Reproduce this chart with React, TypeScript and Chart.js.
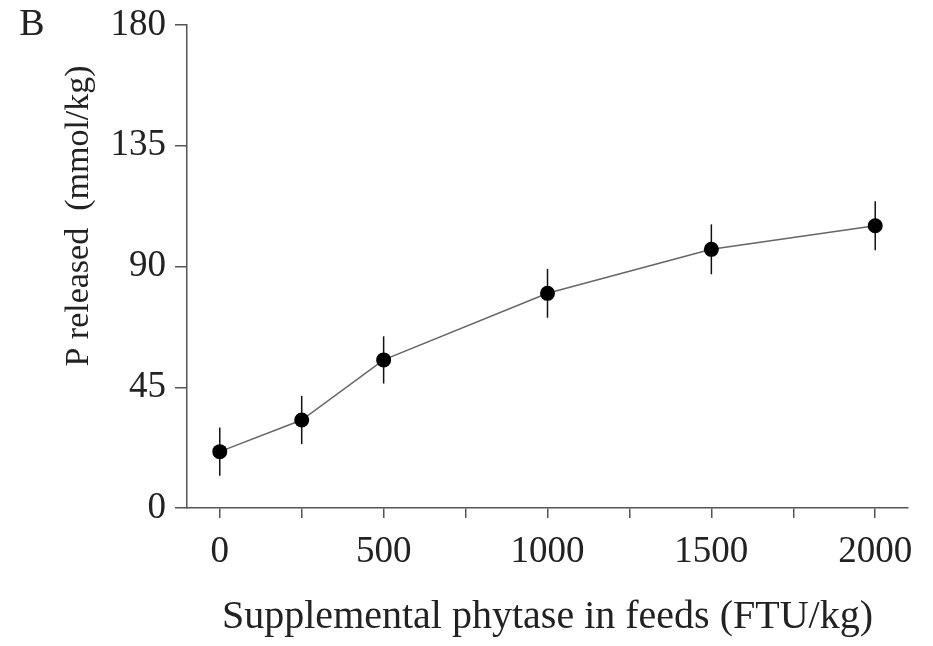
import React, { useEffect, useRef } from "react";
import { Chart, registerables } from "chart.js";
Chart.register(...registerables);

const doses = [0, 250, 500, 1000, 1500, 2000];
const released = [21.0, 32.8, 55.2, 80.0, 96.4, 105.2];
const errors = [9, 9, 8.8, 9.1, 9.3, 9.1];
const xTicks = [0, 250, 500, 750, 1000, 1250, 1500, 1750, 2000];
const xLabeled = [0, 500, 1000, 1500, 2000];
const yTicks = [0, 45, 90, 135, 180];
const xTitle = "Supplemental phytase in feeds (FTU/kg)";
const yTitle = "P released  (mmol/kg)";
const panelLabel = "B";

const SERIF = "'Liberation Serif', 'DejaVu Serif', serif";

const errorBarPlugin = {
  id: "errorBars",
  beforeDatasetsDraw(chart: any) {
    const { ctx, scales } = chart;
    const xs = scales.x;
    const ys = scales.y;
    ctx.save();
    ctx.strokeStyle = "#111";
    ctx.lineWidth = 1.5;
    doses.forEach((d, i) => {
      const px = xs.getPixelForValue(d);
      const top = ys.getPixelForValue(released[i] + errors[i]);
      const bot = ys.getPixelForValue(released[i] - errors[i]);
      ctx.beginPath();
      ctx.moveTo(px, top);
      ctx.lineTo(px, bot);
      ctx.stroke();
    });
    ctx.restore();
  },
};

const textPlugin = {
  id: "extraText",
  afterDraw(chart: any) {
    const { ctx, chartArea } = chart;
    ctx.save();
    ctx.fillStyle = "#222";
    ctx.font = `34px ${SERIF}`;
    ctx.textAlign = "center";
    ctx.textBaseline = "middle";
    ctx.translate(79, chartArea.top + 191);
    ctx.rotate(-Math.PI / 2);
    ctx.fillText(yTitle, 0, 0);
    ctx.restore();
    ctx.save();
    ctx.fillStyle = "#222";
    ctx.font = `38px ${SERIF}`;
    ctx.textAlign = "center";
    ctx.textBaseline = "middle";
    ctx.fillText(panelLabel, 32, 25);
    ctx.restore();
  },
};

export default function App() {
  const ref = useRef<HTMLCanvasElement | null>(null);
  useEffect(() => {
    if (!ref.current) return;
    const chart = new Chart(ref.current, {
      type: "line",
      data: {
        datasets: [
          {
            data: doses.map((d, i) => ({ x: d, y: released[i] })),
            borderColor: "#666",
            borderWidth: 1.5,
            pointBackgroundColor: "#000",
            pointBorderColor: "#000",
            pointRadius: 7.5,
            pointBorderWidth: 0,
            tension: 0,
            clip: false as any,
          },
        ],
      },
      plugins: [errorBarPlugin, textPlugin],
      options: {
        animation: false,
        responsive: false,
        layout: { padding: { top: 25, right: 25, left: 0, bottom: 0 } },
        plugins: { legend: { display: false }, tooltip: { enabled: false } },
        scales: {
          x: {
            type: "linear",
            min: -100,
            max: 2100,
            afterFit: (s: any) => {
              s.height = 138;
              s.paddingLeft = 0;
              s.paddingRight = 0;
            },
            afterBuildTicks: (s: any) => {
              s.ticks = xTicks.map((v) => ({ value: v }));
            },
            border: { display: true, color: "#555", width: 1.5 },
            grid: {
              display: true,
              drawOnChartArea: false,
              drawTicks: true,
              tickLength: 10,
              color: "#555",
              lineWidth: 1.5,
            },
            ticks: {
              autoSkip: false,
              maxRotation: 0,
              padding: 12,
              color: "#222",
              font: { family: SERIF, size: 37 },
              callback: (v: any) => (xLabeled.includes(Number(v)) ? String(v) : ""),
            },
            title: {
              display: true,
              text: xTitle,
              color: "#222",
              font: { family: SERIF, size: 40 },
              padding: { top: 0, bottom: 5 },
            },
          },
          y: {
            type: "linear",
            min: 0,
            max: 180,
            afterFit: (s: any) => {
              s.width = 187;
              s.paddingTop = 0;
              s.paddingBottom = 0;
            },
            afterBuildTicks: (s: any) => {
              s.ticks = yTicks.map((v) => ({ value: v }));
            },
            border: { display: true, color: "#555", width: 1.5 },
            grid: {
              display: true,
              drawOnChartArea: false,
              drawTicks: true,
              tickLength: 12,
              color: "#555",
              lineWidth: 1.5,
            },
            ticks: {
              padding: 9,
              color: "#222",
              font: { family: SERIF, size: 37 },
            },
          },
        },
      },
    });
    return () => chart.destroy();
  }, []);
  return (
    <div style={{ position: "absolute", left: 0, top: 0, width: 933, height: 646, background: "#fff" }}>
      <canvas ref={ref} width={933} height={646} style={{ display: "block" }} />
    </div>
  );
}
